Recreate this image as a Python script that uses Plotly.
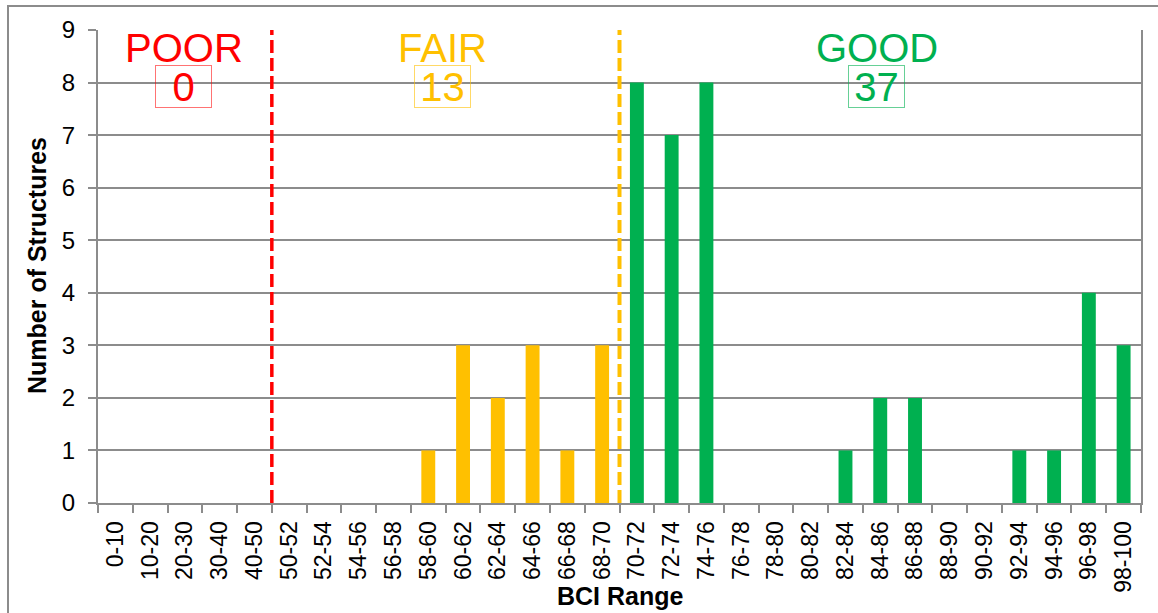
import plotly.graph_objects as go

categories = ["0-10", "10-20", "20-30", "30-40", "40-50",
              "50-52", "52-54", "54-56", "56-58", "58-60",
              "60-62", "62-64", "64-66", "66-68", "68-70",
              "70-72", "72-74", "74-76", "76-78", "78-80",
              "80-82", "82-84", "84-86", "86-88", "88-90",
              "90-92", "92-94", "94-96", "96-98", "98-100"]
counts = [0, 0, 0, 0, 0,
          0, 0, 0, 0, 1,
          3, 2, 3, 1, 3,
          8, 7, 8, 0, 0,
          0, 1, 2, 2, 0,
          0, 1, 1, 4, 3]
condition = ["POOR"] * 5 + ["FAIR"] * 10 + ["GOOD"] * 15
group_names = ["POOR", "FAIR", "GOOD"]
group_totals = [0, 13, 37]
group_colors = {"POOR": "#FF0000", "FAIR": "#FFC000", "GOOD": "#00B050"}
box_colors = {"POOR": "rgba(255,0,0,0.55)", "FAIR": "rgba(255,192,0,0.6)", "GOOD": "rgba(0,176,80,0.6)"}
y_ticks = list(range(0, 10))

FONT = "Liberation Sans, Arial, sans-serif"

fig = go.Figure()
fig.add_trace(go.Bar(
    x=categories, y=counts,
    marker=dict(color=[group_colors[c] for c in condition], line=dict(width=0)),
    width=0.4, showlegend=False, hoverinfo="x+y",
))

W, H = 1158, 613
L, R, T, B = 98, 17, 30, 110
pw, ph = W - L - R, H - T - B

def px_x(p):
    return (p - L) / pw

def px_y(p):
    return (H - B - p) / ph

shapes = []
# outer chart border
shapes.append(dict(type="rect", xref="paper", yref="paper",
                   x0=px_x(8), x1=px_x(1175), y0=px_y(630), y1=px_y(6),
                   line=dict(color="#8c8c8c", width=2), fillcolor="rgba(0,0,0,0)", layer="below"))
# category boundary lines
shapes.append(dict(type="line", xref="x", yref="y", x0=4.5, x1=4.5, y0=0, y1=9,
                   line=dict(color="#FF0000", width=3.5, dash="13px,5px")))
shapes.append(dict(type="line", xref="x", yref="y", x0=14.5, x1=14.5, y0=0, y1=9,
                   line=dict(color="#FFC000", width=4, dash="13px,5px")))

label_x = {"POOR": 1.97, "FAIR": 9.42, "GOOD": 21.9}
annotations = []
for name, total in zip(group_names, group_totals):
    annotations.append(dict(x=label_x[name], y=8.66, xref="x", yref="y", text=name,
                            showarrow=False, font=dict(family=FONT, size=40, color=group_colors[name]),
                            xanchor="center", yanchor="middle"))
    annotations.append(dict(x=label_x[name], y=7.92, xref="x", yref="y", text=str(total),
                            showarrow=False, font=dict(family=FONT, size=40, color=group_colors[name]),
                            xanchor="center", yanchor="middle", width=55, height=41,
                            bordercolor=box_colors[name], borderwidth=1, borderpad=0))
annotations.append(dict(x=px_x(37), y=px_y(266), xref="paper", yref="paper",
                        text="<b>Number of Structures</b>", textangle=-90, showarrow=False,
                        font=dict(family=FONT, size=25, color="black"),
                        xanchor="center", yanchor="middle"))
annotations.append(dict(x=px_x(620), y=px_y(596), xref="paper", yref="paper",
                        text="<b>BCI Range</b>", showarrow=False,
                        font=dict(family=FONT, size=25, color="black"),
                        xanchor="center", yanchor="middle"))

fig.update_layout(
    width=W, height=H,
    margin=dict(l=L, r=R, t=T, b=B, autoexpand=False),
    paper_bgcolor="white", plot_bgcolor="white",
    shapes=shapes, annotations=annotations,
    bargap=0.6,
    font=dict(family=FONT, color="black"),
)
fig.update_xaxes(
    type="category", categoryorder="array", categoryarray=categories,
    range=[-0.5, 29.5], tickangle=-90, tickfont=dict(size=23, family=FONT, color="black"),
    showline=True, linecolor="#8c8c8c", linewidth=2, mirror=False,
    ticks="outside", ticklen=8, tickcolor="#8c8c8c", tickwidth=2, tickson="boundaries",
    showgrid=False, ticklabelstandoff=7,
)
fig.update_yaxes(
    range=[0, 9], tickvals=y_ticks, tickfont=dict(size=24, family=FONT, color="black"),
    showline=True, linecolor="#8c8c8c", linewidth=2, mirror=True,
    ticks="outside", ticklen=8, tickcolor="#8c8c8c", tickwidth=2,
    showgrid=True, gridcolor="#8c8c8c", gridwidth=2, zeroline=False, ticklabelstandoff=8,
)

fig.write_html("out.html", config={"displayModeBar": False},
               post_script="document.body.style.margin='0';document.body.style.overflow='hidden';")
